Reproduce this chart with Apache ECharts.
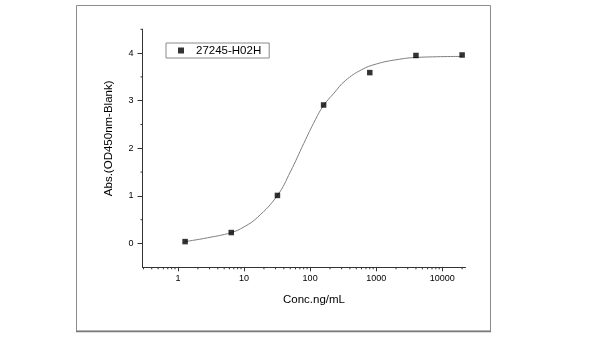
<!DOCTYPE html>
<html>
<head>
<meta charset="utf-8">
<script src="https://cdn.jsdelivr.net/npm/echarts@6/dist/echarts.min.js"></script>
<style>
  html, body { margin: 0; padding: 0; background: #fff; }
  #chart { width: 600px; height: 338px; }
</style>
</head>
<body>
<div id="chart"></div>
<script>
// ELISA binding curve: measured points and fitted curve
const seriesName = '27245-H02H';
const concentrations = [1.28, 6.4, 32, 160, 800, 4000, 20000];
const absorbance = [0.04, 0.23, 1.01, 2.91, 3.59, 3.95, 3.96];

// fitted curve, sampled along the concentration range
const fitConc = [1.28, 2.8, 6.4, 10, 16, 32, 50, 80, 120, 160, 230, 340, 600, 1000, 2000, 4200, 20000];
const fitAbs = [0.04, 0.12, 0.23, 0.35, 0.55, 1.01, 1.5, 2.1, 2.6, 2.9, 3.16, 3.42, 3.65, 3.77, 3.86, 3.91, 3.93];

// axis ticks
const xMajorTicks = [1, 10, 100, 1000, 10000];
const xMinorTicks = [0.3, 0.4, 0.5, 0.6, 0.7, 0.8, 0.9,
  2, 3, 4, 5, 6, 7, 8, 9,
  20, 30, 40, 50, 60, 70, 80, 90,
  200, 300, 400, 500, 600, 700, 800, 900,
  2000, 3000, 4000, 5000, 6000, 7000, 8000, 9000,
  20000];
const yMajorTicks = [0, 1, 2, 3, 4];
const yMinorTicks = [0.5, 1.5, 2.5, 3.5, 4.5];

const X_MIN = 0.29, X_MAX = 22500;
const Y_MIN = -0.5, Y_MAX = 4.5;

const FONT = "'Liberation Sans', Arial, sans-serif";
const AXIS_COLOR = '#333';

const chart = echarts.init(document.getElementById('chart'), null, { renderer: 'canvas' });

function minorTickSeries(values, horizontal) {
  return {
    type: 'custom',
    silent: true,
    clip: false,
    z: 5,
    data: values.map(v => horizontal ? [v, Y_MIN] : [X_MIN, v]),
    encode: { x: 0, y: 1 },
    renderItem: (params, api) => {
      const p = api.coord([api.value(0), api.value(1)]);
      const shape = horizontal
        ? { x1: p[0], y1: p[1], x2: p[0], y2: p[1] + 2 }
        : { x1: p[0], y1: p[1], x2: p[0] - 2, y2: p[1] };
      return { type: 'line', shape, style: { stroke: AXIS_COLOR, lineWidth: 1 } };
    }
  };
}

chart.setOption({
  animation: false,
  backgroundColor: '#fff',
  textStyle: { fontFamily: FONT },
  graphic: [
    {
      type: 'rect',
      shape: { x: 76.5, y: 5.5, width: 414, height: 325.5 },
      style: { fill: 'none', stroke: '#8c8c8c', lineWidth: 1 },
      silent: true
    },
    {
      type: 'line',
      shape: { x1: 76, y1: 331.5, x2: 491, y2: 331.5 },
      style: { stroke: '#7a7a7a', lineWidth: 1.5 },
      silent: true
    }
  ],
  grid: { left: 142.5, right: 134.5, top: 29.3, bottom: 70.7, containLabel: false },
  legend: {
    data: [seriesName],
    left: 166,
    top: 43,
    orient: 'horizontal',
    icon: 'rect',
    itemWidth: 6,
    itemHeight: 6,
    borderColor: '#8a8a8a',
    borderWidth: 1,
    borderRadius: 0,
    padding: [1.5, 8, 1.5, 12],
    textStyle: { fontSize: 11.5, color: '#000', fontFamily: FONT, padding: [0, 0, 0, 7] }
  },
  xAxis: {
    type: 'log',
    logBase: 10,
    min: X_MIN,
    max: X_MAX,
    name: 'Conc.ng/mL',
    nameLocation: 'middle',
    nameGap: 27,
    nameTextStyle: { fontSize: 11.5, color: '#000', fontFamily: FONT, padding: [0, 0, 0, 20] },
    axisLine: { show: true, onZero: false, lineStyle: { color: AXIS_COLOR, width: 1 } },
    axisTick: { show: true, inside: false, length: 4, customValues: xMajorTicks, lineStyle: { color: AXIS_COLOR } },
    axisLabel: {
      show: true, margin: 7, fontSize: 9, color: '#000', fontFamily: FONT,
      customValues: xMajorTicks,
      formatter: v => String(Math.round(v))
    },
    splitLine: { show: false },
    minorTick: { show: false }
  },
  yAxis: {
    type: 'value',
    min: Y_MIN,
    max: Y_MAX,
    name: 'Abs.(OD450nm-Blank)',
    nameLocation: 'middle',
    nameGap: 28,
    nameTextStyle: { fontSize: 11.5, color: '#000', fontFamily: FONT, padding: [0, 0, 0, 20] },
    axisLine: { show: true, onZero: false, lineStyle: { color: AXIS_COLOR, width: 1 } },
    axisTick: { show: true, inside: false, length: 5, customValues: yMajorTicks, lineStyle: { color: AXIS_COLOR } },
    axisLabel: {
      show: true, margin: 9, fontSize: 9, color: '#000', fontFamily: FONT,
      customValues: yMajorTicks,
      formatter: v => String(v)
    },
    splitLine: { show: false }
  },
  series: [
    {
      name: 'fit',
      type: 'line',
      data: fitConc.map((c, i) => [c, fitAbs[i]]),
      showSymbol: false,
      smooth: 0.45,
      silent: true,
      z: 2,
      lineStyle: { color: '#808080', width: 1 }
    },
    {
      name: seriesName,
      type: 'scatter',
      data: concentrations.map((c, i) => [c, absorbance[i]]),
      symbol: 'rect',
      symbolSize: 5.5,
      z: 3,
      itemStyle: { color: '#000' }
    },
    minorTickSeries(xMinorTicks, true),
    minorTickSeries(yMinorTicks, false)
  ]
});
</script>
</body>
</html>
